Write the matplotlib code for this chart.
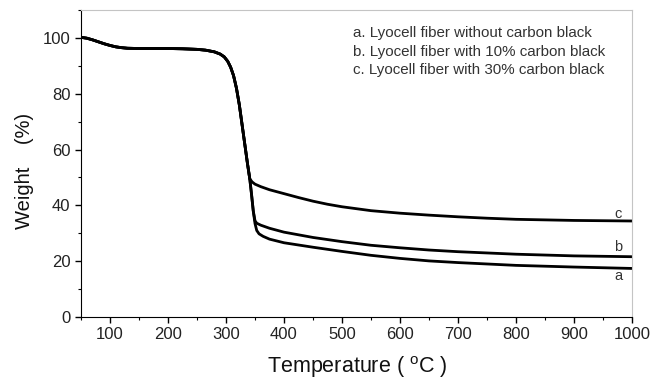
import matplotlib.pyplot as plt
from matplotlib.ticker import MultipleLocator

# shared part of the three TGA curves (before they split)
temp_common = [50, 60, 70, 80, 90, 100, 110, 120, 130, 150, 175, 200, 225, 250, 265,
               280, 290, 297, 303, 308, 313, 318, 323, 328, 333, 337, 341]
wt_common = [100.2, 99.9, 99.3, 98.6, 97.9, 97.3, 96.8, 96.5, 96.3, 96.2, 96.2, 96.2, 96.1,
             95.9, 95.6, 95.0, 94.2, 93.2, 91.6, 89.5, 86.5, 82.0, 76.0, 68.5, 61.0, 55.0, 49.5]

# tails after the split
temp_c = [345, 350, 360, 375, 400, 425, 450, 475, 500, 550, 600, 650, 700, 750, 800, 850, 900, 950, 1000]
wt_c = [48.4, 47.6, 46.7, 45.6, 44.2, 42.8, 41.5, 40.4, 39.5, 38.1, 37.2, 36.5, 35.9, 35.4,
        35.0, 34.8, 34.6, 34.5, 34.4]

temp_b = [344, 347, 350, 353, 360, 375, 400, 450, 500, 550, 600, 650, 700, 800, 900, 1000]
wt_b = [44.0, 38.0, 34.5, 33.6, 32.9, 31.8, 30.4, 28.5, 27.0, 25.7, 24.8, 24.0, 23.4, 22.5, 21.9, 21.6]

temp_a = [344, 347, 350, 353, 357, 364, 375, 400, 450, 500, 550, 600, 650, 700, 800, 900, 1000]
wt_a = [44.0, 38.0, 33.5, 31.0, 29.8, 28.9, 27.9, 26.6, 25.0, 23.5, 22.1, 21.0, 20.1, 19.5,
        18.5, 17.9, 17.4]

legend_lines = ["a. Lyocell fiber without carbon black",
                "b. Lyocell fiber with 10% carbon black",
                "c. Lyocell fiber with 30% carbon black"]

plt.rcParams['font.family'] = ['Liberation Sans', 'DejaVu Sans']

W, H = 652, 379
fig = plt.figure(figsize=(W / 100, H / 100), dpi=100)
ax = fig.add_axes([81 / W, 1 - 317 / H, (632 - 81) / W, (317 - 10) / H])

for tail_t, tail_w in [(temp_a, wt_a), (temp_b, wt_b), (temp_c, wt_c)]:
    ax.plot(temp_common + tail_t, wt_common + tail_w, color="black", lw=2.0,
            solid_joinstyle="round")

ax.set_xlim(50, 1000)
ax.set_ylim(0, 110)
ax.set_xticks([100, 200, 300, 400, 500, 600, 700, 800, 900, 1000])
ax.set_yticks([0, 20, 40, 60, 80, 100])
ax.xaxis.set_minor_locator(MultipleLocator(50))
ax.yaxis.set_minor_locator(MultipleLocator(10))
ax.tick_params(which="major", direction="out", length=4, width=1, labelsize=12,
               colors="black", labelcolor="#222222")
ax.tick_params(which="minor", direction="out", length=2.5, width=0.8)
ax.tick_params(top=False, right=False)

for s in ["top", "right"]:
    ax.spines[s].set_color("#c4c4c4")
    ax.spines[s].set_linewidth(0.8)

fig.text(357 / W, 1 - 373 / H, "Temperature ( $^{\\mathregular{o}}$C )", fontsize=15.5,
         ha="center", va="baseline", color="#111111")
fig.text(24 / W, 1 - 171 / H, "Weight    (%)", fontsize=14.5, rotation=90,
         ha="center", va="center", color="#111111")

for i, line in enumerate(legend_lines):
    fig.text(353 / W, 1 - (33.5 + i * 18.3) / H, line, fontsize=10.9,
             color="#333333", va="center")

for lbl, ypix in [("c", 214), ("b", 247), ("a", 276)]:
    fig.text(618 / W, 1 - ypix / H, lbl, fontsize=10.5, color="#333333",
             ha="center", va="center")

fig.savefig("out.png", dpi=100)
